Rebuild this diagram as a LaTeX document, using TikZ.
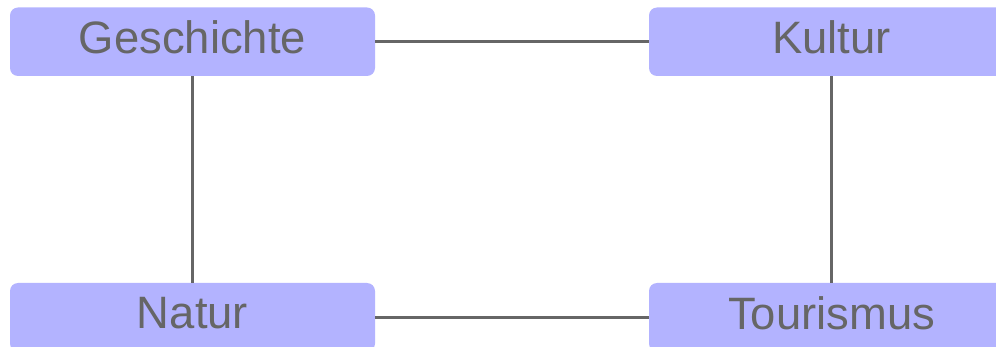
\documentclass[tikz,border=0pt]{standalone}
\usepackage{fontspec}
\setmainfont{Liberation Sans}
\definecolor{boxfill}{HTML}{B3B3FF}
\definecolor{inkgrey}{HTML}{666666}

\begin{document}
\begin{tikzpicture}[x=0.5pt, y=-0.5pt,
  every node/.style = {shape=rectangle, rounded corners=4pt, fill=boxfill,
    text=inkgrey, minimum width=182.5pt, minimum height=34.25pt,
    text depth=4.25pt, font=\fontsize{22.7}{26}\selectfont}]
	\useasboundingbox (0,0) rectangle (996,347);
	\clip (0,0) rectangle (996,347);

  	\node (Geschichte) at (192.5,41.75) {Geschichte};
  	\node (Kultur) at (831.5,41.75) {Kultur};
  	\node (Natur) at (192.5,317.25) {Natur};
  	\node (Tourismus) at (831.5,317.25) {Tourismus};

   	\draw[inkgrey,line width=1.5pt] (Geschichte.east) -- (Kultur.west);
   	\draw[inkgrey,line width=1.5pt] (Geschichte.south) -- (Natur.north);
   	\draw[inkgrey,line width=1.5pt] (Kultur.south) -- (Tourismus.north);
   	\draw[inkgrey,line width=1.5pt] (Natur.east) -- (Tourismus.west);
\end{tikzpicture}
\end{document}
